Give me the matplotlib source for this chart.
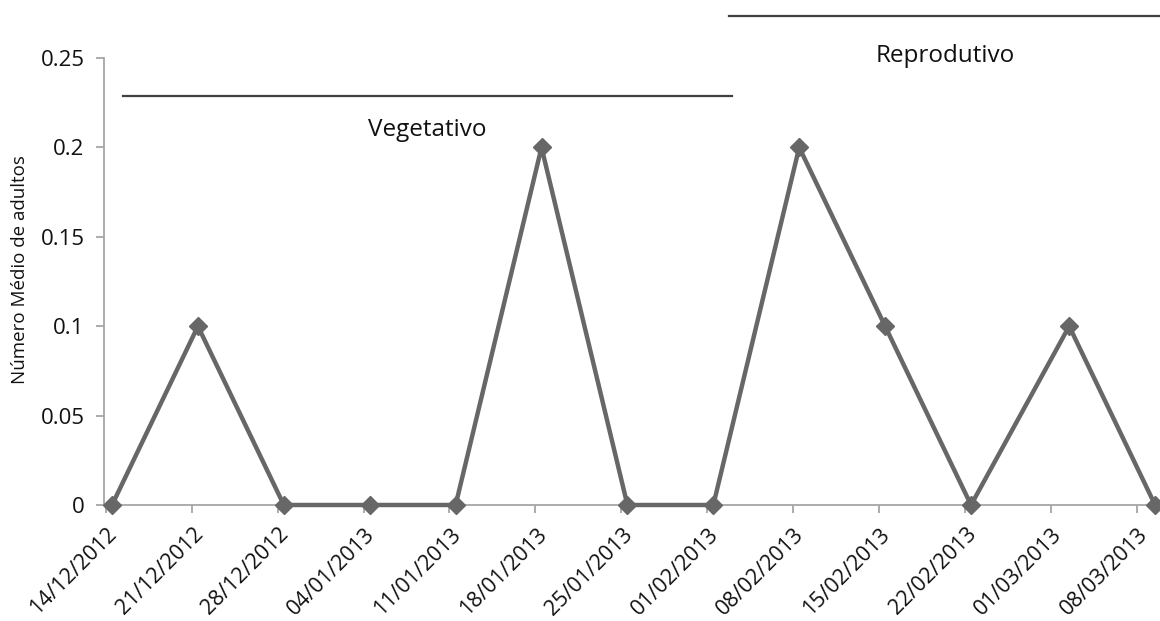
import datetime as dt

import matplotlib

matplotlib.use("Agg")
import matplotlib.pyplot as plt
import matplotlib.dates as mdates
from matplotlib.transforms import ScaledTranslation

# sample dates (points sit about half a day after the weekly ticks)
sample_dates = [
    "14/12/2012 12:00", "21/12/2012 12:00", "28/12/2012 12:00", "04/01/2013 12:00",
    "11/01/2013 12:00", "18/01/2013 12:00", "25/01/2013 12:00", "01/02/2013 12:00",
    "08/02/2013 12:00", "15/02/2013 12:00", "22/02/2013 12:00", "02/03/2013 12:00",
    "09/03/2013 12:00",
]
adults = [0, 0.1, 0, 0, 0, 0.2, 0, 0, 0.2, 0.1, 0, 0.1, 0]

tick_labels = [
    "14/12/2012", "21/12/2012", "28/12/2012", "04/01/2013", "11/01/2013",
    "18/01/2013", "25/01/2013", "01/02/2013", "08/02/2013", "15/02/2013",
    "22/02/2013", "01/03/2013", "08/03/2013",
]
y_ticks = [0, 0.05, 0.1, 0.15, 0.2, 0.25]
y_tick_labels = ["0", "0.05", "0.1", "0.15", "0.2", "0.25"]

# phase bars: (label, start, end, bar height, text height)
phases = [
    ("Vegetativo", "15/12/2012 10:00", "03/02/2013 00:00", 0.229, 0.2095),
    ("Reprodutivo", "02/02/2013 19:00", "10/03/2013 00:00", 0.2735, 0.251),
]


def to_date(text):
    if " " in text:
        return dt.datetime.strptime(text, "%d/%m/%Y %H:%M")
    return dt.datetime.strptime(text, "%d/%m/%Y")


def main():
    plt.rcParams["font.family"] = ["Open Sans", "DejaVu Sans"]

    x = [to_date(d) for d in sample_dates]
    ticks = [to_date(d) for d in tick_labels]

    fig = plt.figure(figsize=(11.6, 6.21), dpi=100)
    ax = fig.add_axes([0.0897, 0.1868, 0.9103, 0.7198])

    line_color = "#676767"
    axis_color = "#a6a6a6"
    text_color = "#111111"

    ax.plot(x, adults, color=line_color, linewidth=3.2, marker="D",
            markersize=9.5, clip_on=False, zorder=3)

    for name, start, end, bar_y, text_y in phases:
        s = mdates.date2num(to_date(start))
        e = mdates.date2num(to_date(end))
        ax.plot([s, e], [bar_y, bar_y], color="#404040", linewidth=1.6,
                clip_on=False)
        ax.text((s + e) / 2, text_y, name, ha="center", va="center",
                fontsize=17.5, color=text_color, clip_on=False)

    ax.set_xlim(mdates.date2num(ticks[0]) - 0.15,
                mdates.date2num(to_date(sample_dates[-1])) + 0.4)
    ax.set_ylim(0, 0.25)

    ax.spines["top"].set_visible(False)
    ax.spines["right"].set_visible(False)
    ax.spines["left"].set_color(axis_color)
    ax.spines["bottom"].set_color(axis_color)
    ax.spines["left"].set_linewidth(1.3)
    ax.spines["bottom"].set_linewidth(1.3)
    ax.tick_params(axis="both", color=axis_color, width=1.3, length=6,
                   direction="out")
    ax.tick_params(axis="y", pad=8)

    ax.set_xticks(ticks)
    ax.set_xticklabels(tick_labels, rotation=45, ha="right", va="center",
                       rotation_mode="anchor", fontsize=15.5, color=text_color)
    # shift the slanted labels after tick_params, which resets transforms
    offset = ScaledTranslation(0.08, -0.13, fig.dpi_scale_trans)
    for label in ax.get_xticklabels():
        label.set_transform(label.get_transform() + offset)

    ax.set_yticks(y_ticks)
    ax.set_yticklabels(y_tick_labels, fontsize=16, color=text_color)

    ax.set_ylabel("Número Médio de adultos", fontsize=13.5, color=text_color)
    ax.yaxis.set_label_coords(-0.071, 0.527)

    fig.savefig("out.png", dpi=100)


if __name__ == "__main__":
    main()
